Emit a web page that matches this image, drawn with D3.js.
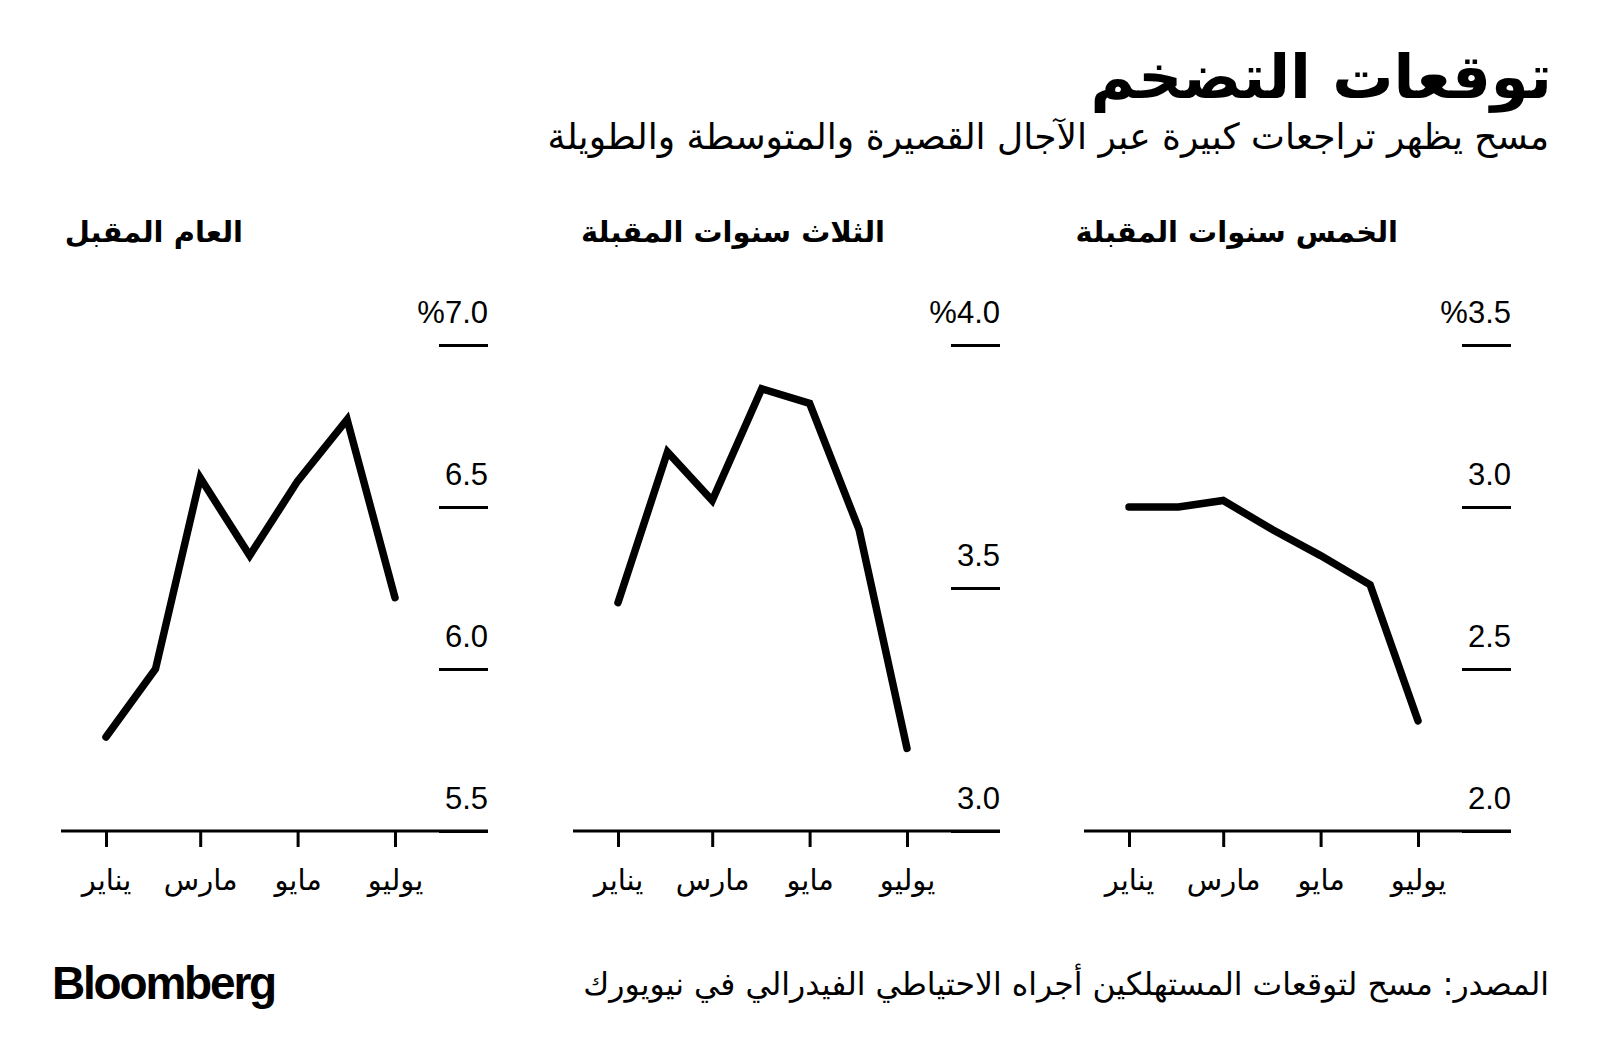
<!DOCTYPE html>
<html>
<head>
    <meta charset="utf-8">
    <title>توقعات التضخم</title>
    <script src="https://d3js.org/d3.v7.min.js"></script>
    <style>
        body { margin: 0; background: #fff; }
        svg { display: block; background: #fff; }
        .ar { font-family: "DejaVu Sans", "Noto Sans", sans-serif; fill: #000; }
        .num { font-family: "Liberation Sans", Arial, sans-serif; fill: #000; }
    </style>
</head>
<body>
    <svg id="chart"></svg>

    <script>
        // Chart data
        var months = ["2022-01-01", "2022-02-01", "2022-03-01", "2022-04-01", "2022-05-01", "2022-06-01", "2022-07-01"];
        var tickMonths = ["2022-01-01", "2022-03-01", "2022-05-01", "2022-07-01"];
        var tickMonthLabels = ["يناير", "مارس", "مايو", "يوليو"];

        var panelTitles = ["العام المقبل", "الثلاث سنوات المقبلة", "الخمس سنوات المقبلة"];
        var oneYear = [5.79, 6.0, 6.59, 6.35, 6.58, 6.77, 6.22];
        var threeYear = [3.47, 3.78, 3.68, 3.91, 3.88, 3.62, 3.17];
        var fiveYear = [3.0, 3.0, 3.02, 2.93, 2.85, 2.76, 2.34];

        var yDomains = [[5.5, 7.0], [3.0, 4.0], [2.0, 3.5]];
        var yTicks = [[5.5, 6.0, 6.5, 7.0], [3.0, 3.5, 4.0], [2.0, 2.5, 3.0, 3.5]];

        var title = "توقعات التضخم";
        var subtitle = "مسح يظهر تراجعات كبيرة عبر الآجال القصيرة والمتوسطة والطويلة";
        var source = "المصدر: مسح لتوقعات المستهلكين أجراه الاحتياطي الفيدرالي في نيويورك";

        var W = 1600, H = 1060;
        var svg = d3.select('#chart').attr('width', W).attr('height', H);

        // Header
        svg.append('text').attr('class', 'ar')
            .attr('x', 1552).attr('y', 98)
            .attr('text-anchor', 'end')
            .style('font-size', '61px').style('font-weight', 'bold')
            .text(title);

        svg.append('text').attr('class', 'ar')
            .attr('x', 1549).attr('y', 149)
            .attr('text-anchor', 'end')
            .style('font-size', '36px')
            .text(subtitle);

        // Panels
        var series = [oneYear, threeYear, fiveYear];
        var panelLeft = [61, 573, 1084];
        var titleRight = [243, 885, 1398];
        var panelW = 427, plotTop = 345, plotBottom = 831;
        var parse = d3.timeParse('%Y-%m-%d');

        var x = d3.scaleTime()
            .domain([parse(tickMonths[0]), parse(tickMonths[3])])
            .range([45, 334]);

        series.forEach(function (values, i) {
            var g = svg.append('g').attr('transform', 'translate(' + panelLeft[i] + ',0)');

            var y = d3.scaleLinear().domain(yDomains[i]).range([plotBottom, plotTop]);

            // panel title
            svg.append('text').attr('class', 'ar')
                .attr('x', titleRight[i]).attr('y', 242)
                .attr('text-anchor', 'end')
                .style('font-size', '29px').style('font-weight', 'bold')
                .text(panelTitles[i]);

            // y axis: short tick lines at right with labels above
            var topTick = yTicks[i][yTicks[i].length - 1];
            var yAxis = d3.axisLeft(y)
                .tickValues(yTicks[i])
                .tickSize(49)
                .tickPadding(-49)
                .tickFormat(function (d) { return (d === topTick ? '%' : '') + d3.format('.1f')(d); });

            var ya = g.append('g').attr('transform', 'translate(' + panelW + ',0)').call(yAxis);
            ya.select('.domain').remove();
            ya.selectAll('.tick line').attr('stroke', '#000').attr('stroke-width', 3);
            ya.selectAll('.tick text')
                .attr('class', 'num')
                .attr('y', -23).attr('dy', 0)
                .attr('text-anchor', 'end')
                .style('font-size', '31px');

            // baseline
            g.append('line')
                .attr('x1', 0).attr('x2', panelW)
                .attr('y1', plotBottom).attr('y2', plotBottom)
                .attr('stroke', '#000').attr('stroke-width', 3);

            // x axis
            var xAxis = d3.axisBottom(x)
                .tickValues(tickMonths.map(parse))
                .tickSize(16)
                .tickPadding(22)
                .tickFormat(function (d, j) { return tickMonthLabels[j]; });

            var xa = g.append('g').attr('transform', 'translate(0,' + plotBottom + ')').call(xAxis);
            xa.select('.domain').remove();
            xa.selectAll('.tick line').attr('stroke', '#000').attr('stroke-width', 3);
            xa.selectAll('.tick text')
                .attr('class', 'ar')
                .style('font-size', '29px');

            // line
            var line = d3.line()
                .x(function (d, j) { return x(parse(months[j])); })
                .y(function (d) { return y(d); });

            g.append('path')
                .datum(values)
                .attr('d', line)
                .attr('fill', 'none')
                .attr('stroke', '#000')
                .attr('stroke-width', 7.5)
                .attr('stroke-linecap', 'round')
                .attr('stroke-linejoin', 'miter');
        });

        // Footer
        svg.append('text').attr('class', 'ar')
            .attr('x', 1549).attr('y', 995)
            .attr('text-anchor', 'end')
            .style('font-size', '31.5px')
            .text(source);

        svg.append('text').attr('class', 'num')
            .attr('x', 52).attr('y', 999)
            .style('font-size', '46px').style('font-weight', 'bold')
            .style('letter-spacing', '-2.2px')
            .text('Bloomberg');
    </script>
</body>
</html>
